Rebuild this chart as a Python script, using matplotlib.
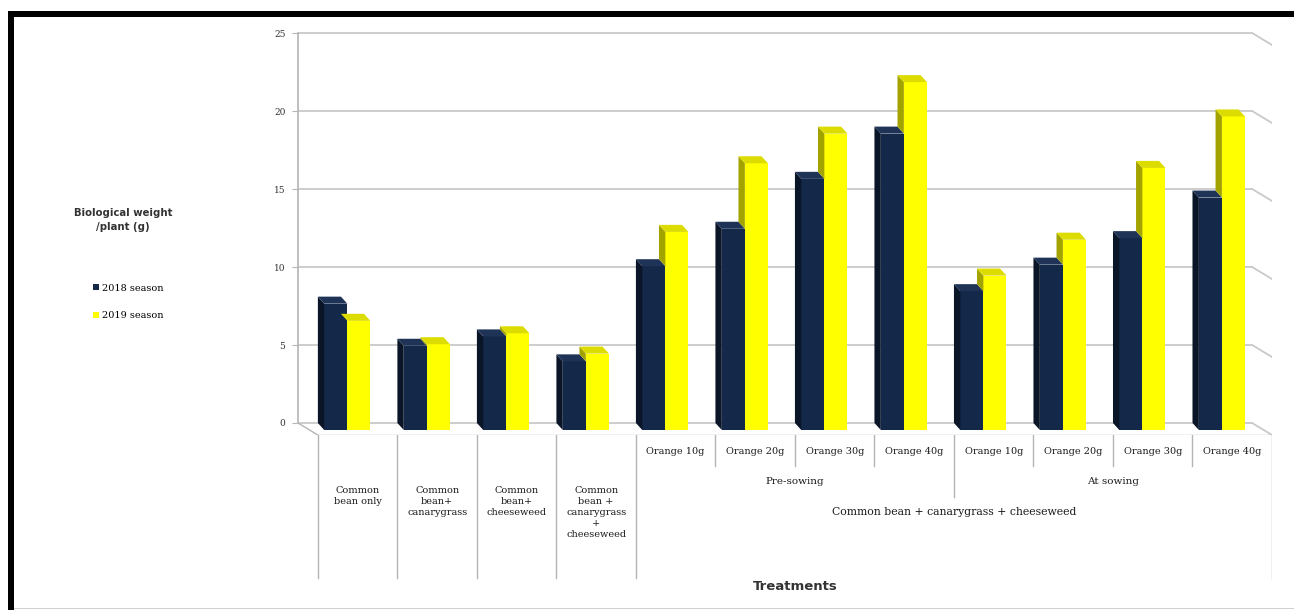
import numpy as np
import matplotlib.pyplot as plt
from matplotlib.patches import Polygon, Rectangle, Patch

W, H = 1294, 610

groups = ['Common\nbean only', 'Common\nbean+\ncanarygrass', 'Common\nbean+\ncheeseweed',
          'Common\nbean +\ncanarygrass\n+\ncheeseweed']
doses = ['Orange 10g', 'Orange 20g', 'Orange 30g', 'Orange 40g']
timing = ['Pre-sowing', 'At sowing']
mixture = 'Common bean + canarygrass + cheeseweed'
season_2018 = [8.1, 5.4, 6.0, 4.4, 10.5, 12.9, 16.1, 19.0, 8.9, 10.6, 12.3, 14.9]
season_2019 = [7.0, 5.5, 6.2, 4.9, 12.7, 17.1, 19.0, 22.3, 9.9, 12.2, 16.8, 20.1]
seasons = ['2018 season', '2019 season']
yticks = [0, 5, 10, 15, 20, 25]

navy = '#14284a'
navy_side = '#0a1528'
navy_top = '#1f3357'
yel = '#ffff00'
yel_side = '#a3a300'
yel_top = '#dcdc00'
grid_c = '#c9c9c9'
line_c = '#b4b4b4'
txt_c = '#1a1a1a'
serif = 'DejaVu Serif'

# bar depth (front face sits right/down of the back wall)
ddx, ddy = 0.08, 0.45
# floor depth
fdx, fdy = 0.25, 0.77
bw = 0.29

def fx(px):
    return px / W

def fy(py):
    return 1 - py / H

fig = plt.figure(figsize=(W / 100, H / 100), dpi=100)
fig.patch.set_facecolor('white')

# main chart area: x data -0.25..12, y data -0.8..25.3
ppu = 15.6
x_left, x_right = 298, 1272
y0px = 423
ylo, yhi = -0.8, 25.3
ax = fig.add_axes([fx(x_left), fy(y0px - ylo * ppu), fx(x_right - x_left),
                   (yhi - ylo) * ppu / H])
ax.set_xlim(-0.25, 12.0)
ax.set_ylim(ylo, yhi)
ax.patch.set_alpha(0)
for s in ['top', 'right', 'bottom']:
    ax.spines[s].set_visible(False)
ax.spines['left'].set_bounds(0, 25)
ax.spines['left'].set_color(line_c)
ax.spines['left'].set_linewidth(1.2)
ax.set_xticks([])
ax.set_yticks(yticks)
ax.set_yticklabels([str(t) for t in yticks], fontfamily=serif, fontsize=6.5)
ax.tick_params(axis='y', length=4, color=line_c, pad=5, labelcolor='#333333')

# back wall gridlines and right wall return
for k in yticks:
    ax.plot([-0.25, 11.75], [k, k], color=grid_c, lw=1.3, zorder=1)
    ax.plot([11.75, 12.0], [k, k - fdy], color=grid_c, lw=1.3, zorder=1)
# floor edges
ax.plot([-0.25, 0.0], [0, -fdy], color=line_c, lw=1.0, zorder=1)
ax.plot([0.0, 12.0], [-fdy, -fdy], color=line_c, lw=1.0, zorder=1)

x = np.arange(len(season_2018))
xn = x + ddx
xy = x + bw + ddx
ax.bar(xn, season_2018, width=bw, bottom=-ddy, align='edge', color=navy,
       lw=0, zorder=3)
ax.bar(xy, season_2019, width=bw, bottom=-ddy, align='edge', color=yel,
       lw=0, zorder=3)

for i in range(len(x)):
    vn, vy = season_2018[i], season_2019[i]
    b = x[i]
    # navy left side and top
    ax.add_patch(Polygon([(b, 0), (b + ddx, -ddy), (b + ddx, vn - ddy), (b, vn)],
                         closed=True, fc=navy_side, lw=0, zorder=3))
    ax.add_patch(Polygon([(b, vn), (b + ddx, vn - ddy), (b + bw + ddx, vn - ddy),
                          (b + bw, vn)], closed=True, fc=navy_top, lw=0, zorder=4))
    # yellow left side shows only above the navy bar
    c = b + bw
    if vy > vn:
        ax.add_patch(Polygon([(c, vn), (c + ddx, vn - ddy), (c + ddx, vy - ddy), (c, vy)],
                             closed=True, fc=yel_side, lw=0, zorder=4))
    ax.add_patch(Polygon([(c, vy), (c + ddx, vy - ddy), (c + bw + ddx, vy - ddy),
                          (c + bw, vy)], closed=True, fc=yel_top, lw=0, zorder=4))

# category table below the floor
tab = fig.add_axes([fx(x_left), 0, fx(x_right - x_left), fy(435)])
tab.set_xlim(-0.25, 12.0)
tab.set_ylim(H, 435)
tab.axis('off')
tb = 578
for k in [0, 1, 2, 3, 4, 12]:
    tab.plot([k, k], [435, tb], color=line_c, lw=1.0)
for k in [5, 6, 7, 9, 10, 11]:
    tab.plot([k, k], [435, 466], color=line_c, lw=1.0)
tab.plot([8, 8], [435, 497], color=line_c, lw=1.0)

for i, g in enumerate(groups):
    tab.text(i + 0.5, 486, g, ha='center', va='top', fontfamily=serif, fontsize=7,
             linespacing=1.3, color=txt_c)
for j, t in enumerate(timing):
    for k, d in enumerate(doses):
        tab.text(4 + 4 * j + k + 0.5, 451, d, ha='center', va='center',
                 fontfamily=serif, fontsize=7, color=txt_c)
    tab.text(4 + 4 * j + 2, 481, t, ha='center', va='center', fontfamily=serif,
             fontsize=7.5, color=txt_c)
tab.text(8, 512, mixture, ha='center', va='center', fontfamily=serif, fontsize=7.8,
         color=txt_c)

fig.text(fx(795), fy(586), 'Treatments', ha='center', va='center', fontsize=9.5,
         fontweight='bold', fontfamily='DejaVu Sans', color='#333333')
fig.text(fx(123), fy(220), 'Biological weight\n/plant (g)', ha='center', va='center',
         fontsize=7.3, fontweight='bold', fontfamily='DejaVu Sans', color='#333333',
         linespacing=1.5)

handles = [Patch(fc=navy, ec='none'), Patch(fc=yel, ec='none')]
fig.legend(handles, seasons, loc='center left', bbox_to_anchor=(fx(84), fy(302)),
           frameon=False, handlelength=0.6, handleheight=0.6,
           handletextpad=0.4, labelspacing=1.9, prop={'family': serif, 'size': 7})

# page frame
fig.add_artist(Rectangle((fx(8), 0), fx(6), fy(11), transform=fig.transFigure,
                         fc='black', ec='none'))
fig.add_artist(Rectangle((fx(8), fy(17)), 1, 6 / H, transform=fig.transFigure,
                         fc='black', ec='none'))
fig.add_artist(Rectangle((fx(14), fy(609)), 1, 1.5 / H, transform=fig.transFigure,
                         fc='#d0d0d0', ec='none'))

fig.savefig('out.png', dpi=100)
